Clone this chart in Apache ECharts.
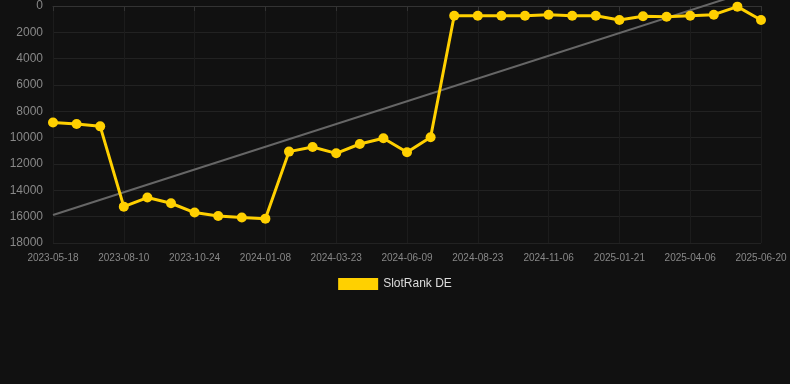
<!DOCTYPE html>
<html lang="en" style="height: 100%">
<head>
<meta charset="utf-8">
<title>SlotRank DE</title>
</head>
<body style="height: 100%; margin: 0; background: #111111">
<div id="container" style="height: 100%"></div>
<script type="text/javascript" src="https://cdn.jsdelivr.net/npm/echarts/dist/echarts.min.js"></script>
<script type="text/javascript">
var dates = [
    '2023-05-18', '2023-06-15', '2023-07-13', '2023-08-10', '2023-09-04', '2023-09-29',
    '2023-10-24', '2023-11-18', '2023-12-14', '2024-01-08', '2024-02-02', '2024-02-27',
    '2024-03-23', '2024-04-18', '2024-05-14', '2024-06-09', '2024-07-04', '2024-07-29',
    '2024-08-23', '2024-09-17', '2024-10-12', '2024-11-06', '2024-12-01', '2024-12-27',
    '2025-01-21', '2025-02-15', '2025-03-12', '2025-04-06', '2025-05-01', '2025-05-26',
    '2025-06-20'
];
var ranks = [
    8850, 8960, 9140, 15240, 14550, 14980, 15690, 15950, 16070, 16150,
    11060, 10710, 11190, 10480, 10050, 11110, 9970, 735, 735, 735,
    735, 660, 735, 735, 1063, 785, 810, 735, 660, 50, 1063
];
var trendStart = 15870;
var trendEnd = -1400;

var dom = document.getElementById('container');
var myChart = echarts.init(dom, null, { width: 790, height: 384 });

var option = {
    backgroundColor: '#111111',
    animation: false,
    grid: { left: 53, right: 29, top: 6, bottom: 141 },
    legend: {
        top: 273,
        left: 'center',
        icon: 'rect',
        itemWidth: 40,
        itemHeight: 12,
        textStyle: { color: '#dddddd', fontSize: 12 },
        data: ['SlotRank DE']
    },
    xAxis: {
        type: 'category',
        data: dates,
        boundaryGap: false,
        axisLine: { lineStyle: { color: '#333333' } },
        axisTick: { show: true, interval: 2, lineStyle: { color: '#333333' } },
        axisLabel: { interval: 2, color: '#888888', fontSize: 10, margin: 10 },
        splitLine: { show: true, interval: 2, lineStyle: { color: '#1c1c1c' } }
    },
    yAxis: {
        type: 'value',
        inverse: true,
        min: 0,
        max: 18000,
        interval: 2000,
        axisLine: { show: false },
        axisTick: { show: false },
        axisLabel: {
            color: '#888888',
            fontSize: 12,
            margin: 10,
            formatter: function (v) { return String(v); }
        },
        splitLine: { lineStyle: { color: '#222222' } }
    },
    series: [
        {
            name: 'trend',
            type: 'line',
            data: [[0, trendStart], [dates.length - 1, trendEnd]],
            symbol: 'none',
            clip: false,
            lineStyle: { color: '#666666', width: 2 },
            silent: true,
            z: 1
        },
        {
            name: 'SlotRank DE',
            type: 'line',
            data: ranks,
            symbol: 'circle',
            symbolSize: 10,
            itemStyle: { color: '#FFD000' },
            lineStyle: { color: '#FFD000', width: 3 },
            z: 2
        }
    ]
};

myChart.setOption(option);
window.addEventListener('resize', myChart.resize);
</script>
</body>
</html>
